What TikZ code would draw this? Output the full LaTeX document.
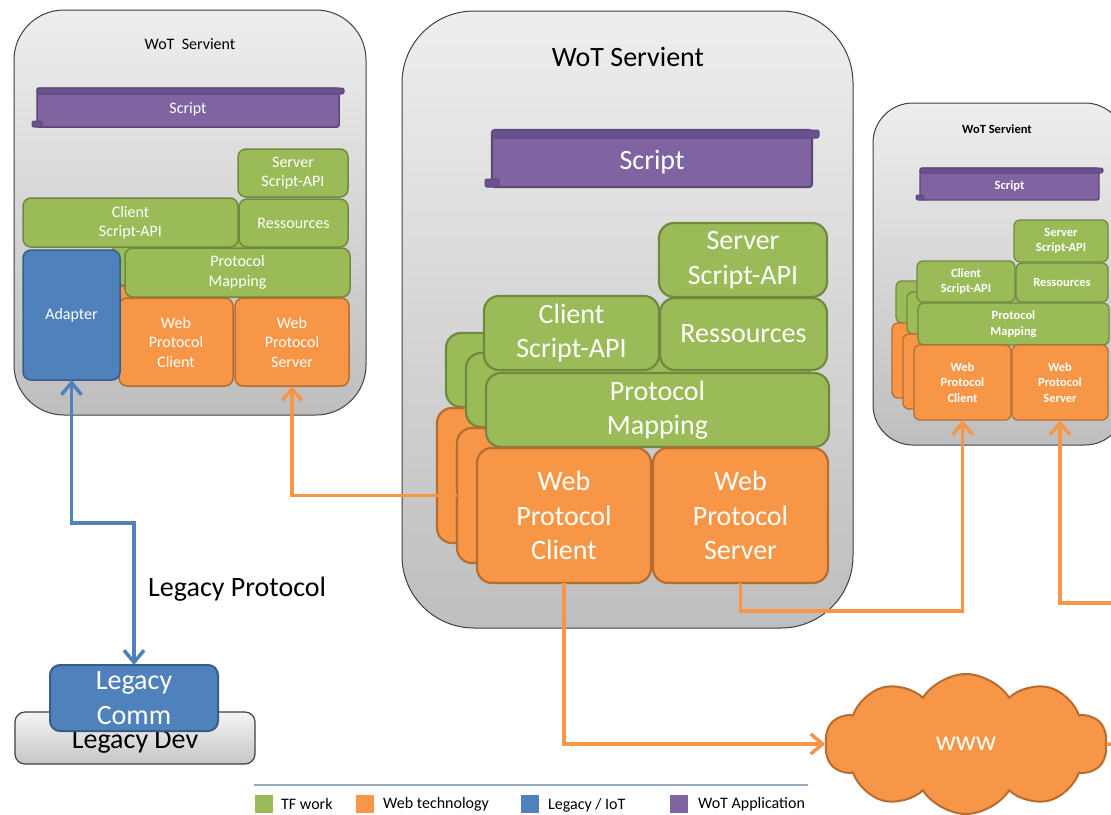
\documentclass[tikz,border=0pt]{standalone}
\usepackage{fontspec}
\setmainfont{Carlito}
\usetikzlibrary{arrows.meta,shapes.symbols}

\definecolor{tfgreen}{HTML}{9BBB59}
\definecolor{tfgreenD}{HTML}{71893F}
\definecolor{weborange}{HTML}{F79646}
\definecolor{weborangeD}{HTML}{B66D31}
\definecolor{iotblue}{HTML}{4F81BD}
\definecolor{iotblueD}{HTML}{385D8A}
\definecolor{appurple}{HTML}{8064A2}
\definecolor{appurpleD}{HTML}{5C4776}
\definecolor{appurpleR}{HTML}{6A5290}
\definecolor{servtop}{HTML}{EEEEEE}
\definecolor{servbot}{HTML}{BEBEBE}
\definecolor{servedge}{HTML}{404040}
\definecolor{devtop}{HTML}{F4F4F4}
\definecolor{devbot}{HTML}{C6C6C6}
\definecolor{legendline}{HTML}{94A8C0}

% text sizes for the three servient scales
\newcommand\fsS{\fontsize{16}{19.5}\selectfont}
\newcommand\fsL{\fontsize{28}{34.5}\selectfont}
\newcommand\fsR{\fontsize{12.5}{15.5}\selectfont\bfseries}

% text moved down inside its node, keeping the node's own centring
\newcommand\lowered[2]{\raisebox{-#1}[\height][\depth]{#2}}

% a box given by its corners: style, name, x1, y1, x2, y2, text
\newcommand\blk[7]{%
  \node[#1, minimum width={(#5)-(#3)}, minimum height={(#6)-(#4)}]
    (#2) at ({((#3)+(#5))/2},{((#4)+(#6))/2}) {#7};}

% rolled edges of a scroll-shaped node: top bar and bottom-left curl
\newcommand\scrollrims[3]{%
  \draw[rim] (#1.north west) rectangle ([xshift=#3,yshift=-#2]#1.north east);
  \draw[rim] ([xshift=-#3,yshift=#2]#1.south west) rectangle ([xshift=#3]#1.south west);}

\begin{document}
\begin{tikzpicture}[x=1pt, y=-1pt,
  box/.style={draw, inner sep=0pt, outer sep=0pt, align=center, text=white},
  smallbox/.style={box, line width=1.5pt, rounded corners=8pt, font=\fsS},
  largebox/.style={box, line width=2.2pt, rounded corners=15pt, font=\fsL},
  tinybox/.style={box, line width=1.3pt, rounded corners=6pt, font=\fsR},
  tf/.style={fill=tfgreen, draw=tfgreenD},
  web/.style={fill=weborange, draw=weborangeD},
  iot/.style={fill=iotblue, draw=iotblueD},
  app/.style={fill=appurple, draw=appurpleD},
  rim/.style={fill=appurpleR, draw=appurpleD, line width=1pt, rounded corners=2pt},
  servient/.style={draw=servedge, line width=1pt, top color=servtop, bottom color=servbot, inner sep=0pt},
  conn/.style={line width=3.5pt},
  >={Straight Barb[length=12pt,width=20pt]},
  legsq/.style={minimum size=18pt, inner sep=0pt},
  legtxt/.style={anchor=west, inner sep=0pt, font=\fsS}]

\clip (0,0) rectangle (1111,814);
\fill[white] (0,0) rectangle (1111,814);

% ---------- left servient ----------
\blk{servient, rounded corners=50pt}{servL}{14}{10}{366}{415}{}
\node[font=\fsS] (titleL) at (190,44) {WoT~~Servient};
\blk{smallbox, app, rounded corners=2pt}{scriptL}{37}{88}{339}{127}{\lowered{2pt}{Script}}
\scrollrims{scriptL}{6pt}{5pt}
\blk{smallbox, tf}{pmL1}{113}{236}{338}{285}{}
\blk{smallbox, web}{wpcL1}{107}{286}{221}{375}{}
\blk{smallbox, tf}{ssaL}{238}{149}{348}{197}{Server\\Script-API}
\blk{smallbox, tf}{csaL}{23}{198}{238}{247}{Client\\Script-API}
\blk{smallbox, tf}{resL}{239}{199}{348}{247}{Ressources}
\blk{smallbox, tf}{pmL}{125}{248}{350}{297}{Protocol\\Mapping}
\blk{smallbox, web}{wpcL}{119}{298}{233}{386}{Web\\Protocol\\Client}
\blk{smallbox, web}{wpsL}{235}{298}{349}{386}{Web\\Protocol\\Server}
\blk{smallbox, iot}{adapter}{23}{250}{120}{380}{Adapter}

% ---------- middle servient ----------
\blk{servient, rounded corners=72pt}{servM}{402}{11}{853}{628}{}
\node[font=\fsL] (titleM) at (628,57) {WoT Servient};
\blk{largebox, app, rounded corners=3pt}{scriptM}{492}{130}{812}{187}{\lowered{4pt}{Script}}
\scrollrims{scriptM}{8pt}{7pt}
\blk{largebox, tf}{pmM2}{446}{333}{789}{407}{}
\blk{largebox, web}{wpcM2}{437}{408}{611}{543}{}
\blk{largebox, tf}{pmM1}{466}{353}{809}{427}{}
\blk{largebox, web}{wpcM1}{457}{428}{631}{563}{}
\blk{largebox, tf}{ssaM}{659}{223}{827}{297}{Server\\Script-API}
\blk{largebox, tf}{csaM}{484}{296}{659}{370}{Client\\Script-API}
\blk{largebox, tf}{resM}{660}{298}{827}{370}{Ressources}
\blk{largebox, tf}{pmM}{486}{373}{829}{447}{Protocol\\Mapping}
\blk{largebox, web}{wpcM}{477}{448}{651}{583}{Web\\Protocol\\Client}
\blk{largebox, web}{wpsM}{653}{448}{828}{583}{Web\\Protocol\\Server}

% ---------- right servient ----------
\blk{servient, rounded corners=40pt}{servR}{873}{103}{1125}{445}{}
\node[font=\fsR] (titleR) at (997,129) {WoT Servient};
\blk{tinybox, app, rounded corners=2pt}{scriptR}{920}{168}{1099}{200}{\lowered{2.5pt}{Script}}
\scrollrims{scriptR}{5pt}{4pt}
\blk{tinybox, tf}{pmR2}{896}{281}{1087}{323}{}
\blk{tinybox, web}{wpcR2}{892}{323}{989}{398}{}
\blk{tinybox, tf}{pmR1}{907}{292}{1098}{334}{}
\blk{tinybox, web}{wpcR1}{903}{334}{1000}{409}{}
\blk{tinybox, tf}{ssaR}{1014}{220}{1108}{262}{Server\\Script-API}
\blk{tinybox, tf}{csaR}{917}{261}{1015}{302}{Client\\Script-API}
\blk{tinybox, tf}{resR}{1016}{263}{1108}{302}{Ressources}
\blk{tinybox, tf}{pmR}{918}{303}{1109}{345}{Protocol\\Mapping}
\blk{tinybox, web}{wpcR}{914}{345}{1011}{420}{Web\\Protocol\\Client}
\blk{tinybox, web}{wpsR}{1012}{345}{1108}{420}{Web\\Protocol\\Server}

% ---------- legacy device ----------
\blk{draw=servedge, line width=1.2pt, rounded corners=10pt, top color=devtop, bottom color=devbot,
     inner sep=0pt, font=\fsL, text=black}{ldev}{15}{712}{255}{764}{\lowered{4pt}{Legacy Dev}}
\blk{box, iot, line width=2pt, rounded corners=10pt, font=\fsL}{lcomm}{50}{665}{218}{731}{Legacy\\Comm}

% ---------- the web ----------
\node[cloud, cloud puffs=10, cloud puff arc=115, aspect=2.0, draw=weborangeD, fill=weborange,
      line width=2pt, minimum width=282pt, minimum height=140pt, inner sep=0pt,
      text=white, font=\fsL] (www) at (966,744) {www};

% ---------- connectors ----------
\coordinate (rfeed) at (1120,603);
\coordinate (wwwout) at (1120,744);
\draw[conn, iotblue, <->] (adapter.south) -- ++(0,143) -| (lcomm.north);
\draw[conn, weborange, ->] (wpcM1.west) -| (wpsL.south);
\draw[conn, weborange, ->] (wpcM.south) |- (www.west);
\draw[conn, weborange, ->] (wpsM.south) -- ++(0,28) -| (wpcR.south);
\draw[conn, weborange, ->] (rfeed) -| (wpsR.south);
\draw[conn, weborange] (www.east) -- (wwwout);

\node[anchor=west, inner sep=0pt, font=\fsL] (lproto) at (148,589) {Legacy Protocol};

% ---------- legend ----------
\draw[legendline, line width=1.5pt] (254,785) -- (808,785);
\node[legsq, fill=tfgreen] (lgTF) at (264,804) {};
\node[legtxt] (lgTFt) at (281,804) {TF work};
\node[legsq, fill=weborange] (lgWeb) at (365,804) {};
\node[legtxt] (lgWebt) at (383,804) {Web technology};
\node[legsq, fill=iotblue] (lgIoT) at (530,804) {};
\node[legtxt] (lgIoTt) at (548,805) {Legacy / IoT};
\node[legsq, fill=appurple] (lgApp) at (679,804) {};
\node[legtxt] (lgAppt) at (698,804) {WoT Application};
\end{tikzpicture}
\end{document}
